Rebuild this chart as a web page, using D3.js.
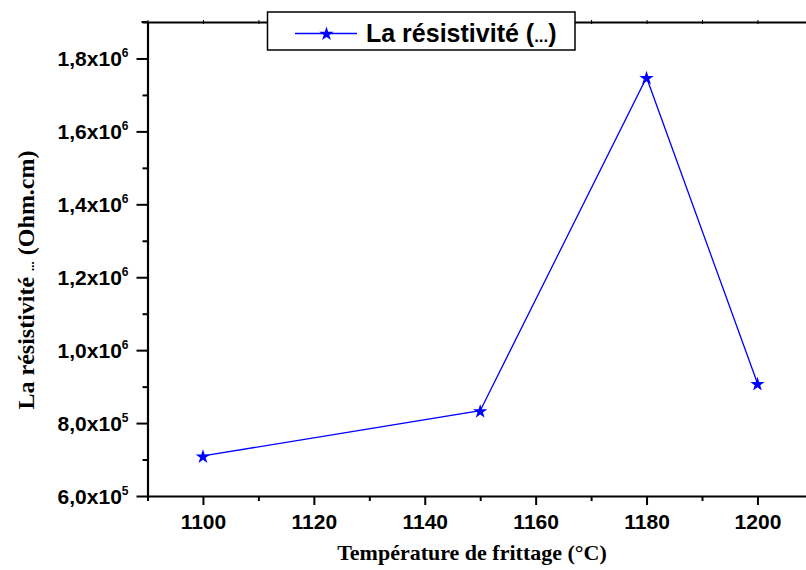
<!DOCTYPE html>
<html>
<head>
<meta charset="utf-8">
<script src="https://cdn.jsdelivr.net/npm/d3@7"></script>
<style>
  html, body { margin: 0; padding: 0; background: #fff; }
  svg { display: block; }
</style>
</head>
<body>
<svg id="chart" width="806" height="570"></svg>
<script>
// ---- data ----
const temperatures = [1100, 1150, 1180, 1200];
const resistivity = [710000, 834000, 1748000, 909000];
const seriesName = "La résistivité ";
const xMajorTicks = [1100, 1120, 1140, 1160, 1180, 1200];
const xMinorTicks = [1090, 1110, 1130, 1150, 1170, 1190, 1210];
const yMajorTicks = [600000, 800000, 1000000, 1200000, 1400000, 1600000, 1800000];
const yMinorTicks = [700000, 900000, 1100000, 1300000, 1500000, 1700000, 1900000];
const xTitle = "Température de frittage (°C)";
const yTitleMain = "La résistivité ";
const yTitleUnit = " (Ohm.cm)";

// ---- layout ----
const svg = d3.select("#chart");
const plotLeft = 147.5, plotTop = 22, plotBottom = 496;
const x = d3.scaleLinear().domain([1090, 1210]).range([plotLeft, plotLeft + 120 * 5.545]);
const y = d3.scaleLinear().domain([600000, 1900000]).range([plotBottom, plotTop]);
const blue = "#0000ff";

// top axis (frame line with tiny ticks)
const topAxis = svg.append("g").attr("transform", `translate(0,${plotTop})`)
  .call(d3.axisBottom(x).tickValues(xMajorTicks.concat(xMinorTicks)).tickSize(3).tickSizeOuter(0).tickFormat(""));
topAxis.select(".domain").attr("stroke", "#000").attr("stroke-width", 2);
topAxis.selectAll(".tick line").attr("stroke", "#000").attr("stroke-width", 1).attr("y1", -2).attr("y2", 2);
svg.append("line").attr("x1", plotLeft - 6).attr("x2", plotLeft).attr("y1", plotTop).attr("y2", plotTop)
  .attr("stroke", "#000").attr("stroke-width", 2);

// bottom axis
const xAxisG = svg.append("g").attr("transform", `translate(0,${plotBottom})`)
  .call(d3.axisBottom(x).tickValues(xMajorTicks).tickSize(9).tickSizeOuter(0).tickPadding(6).tickFormat(d3.format("d")));
xAxisG.select(".domain").attr("stroke", "#000").attr("stroke-width", 2.2);
xAxisG.selectAll(".tick line").attr("stroke", "#000").attr("stroke-width", 2);
xAxisG.selectAll(".tick text")
  .attr("fill", "#000")
  .attr("font-family", "'Liberation Sans', Arial, sans-serif")
  .attr("font-weight", "bold").attr("font-size", 21).attr("dy", null).attr("y", 33);
const xMinorG = svg.append("g").attr("transform", `translate(0,${plotBottom})`)
  .call(d3.axisBottom(x).tickValues(xMinorTicks).tickSize(5).tickSizeOuter(0).tickFormat(""));
xMinorG.select(".domain").remove();
xMinorG.selectAll(".tick line").attr("stroke", "#000").attr("stroke-width", 2);

// left axis
const yAxisG = svg.append("g").attr("transform", `translate(${plotLeft},0)`)
  .call(d3.axisLeft(y).tickValues(yMajorTicks).tickSize(11).tickSizeOuter(0).tickFormat(""));
yAxisG.select(".domain").attr("stroke", "#000").attr("stroke-width", 2.2);
yAxisG.selectAll(".tick line").attr("stroke", "#000").attr("stroke-width", 2);
yAxisG.selectAll(".tick").each(function(d) {
  const e = Math.floor(Math.log10(d) + 1e-9);
  const m = (d / Math.pow(10, e)).toFixed(1).replace(".", ",");
  const t = d3.select(this).append("text")
    .attr("x", -19).attr("y", 7.5)
    .attr("text-anchor", "end").attr("fill", "#000")
    .attr("font-family", "'Liberation Sans', Arial, sans-serif")
    .attr("font-weight", "bold").attr("font-size", 21);
  t.append("tspan").text(m + "x10");
  t.append("tspan").attr("font-size", 12).attr("dy", -9).text(e);
});
const yMinorG = svg.append("g").attr("transform", `translate(${plotLeft},0)`)
  .call(d3.axisLeft(y).tickValues(yMinorTicks).tickSize(5).tickSizeOuter(0).tickFormat(""));
yMinorG.select(".domain").remove();
yMinorG.selectAll(".tick line").attr("stroke", "#000").attr("stroke-width", 2);

// data line + stars
const line = d3.line().x((d, i) => x(temperatures[i])).y(d => y(d));
svg.append("path").datum(resistivity).attr("d", line)
  .attr("fill", "none").attr("stroke", blue).attr("stroke-width", 1.3);
const star = d3.symbol().type(d3.symbolStar).size(64);
svg.selectAll(".pt").data(resistivity).enter().append("path")
  .attr("class", "pt").attr("d", star)
  .attr("transform", (d, i) => `translate(${x(temperatures[i])},${y(d) + 1})`)
  .attr("fill", blue);

// legend
const lg = svg.append("g");
lg.append("rect").attr("x", 267.5).attr("y", 12).attr("width", 307.5).attr("height", 38)
  .attr("fill", "#fff").attr("stroke", "#000").attr("stroke-width", 1.5);
lg.append("line").attr("x1", 295).attr("x2", 357).attr("y1", 33.5).attr("y2", 33.5)
  .attr("stroke", blue).attr("stroke-width", 1.3);
lg.append("path").attr("d", star).attr("transform", "translate(326.5,34)").attr("fill", blue);
const lt = lg.append("text").attr("x", 366).attr("y", 41.5).attr("fill", "#000")
  .attr("font-family", "'Liberation Sans', Arial, sans-serif")
  .attr("font-weight", "bold").attr("font-size", 25);
lt.append("tspan").text(seriesName + "(");
lt.append("tspan").attr("font-size", 17).text("...");
lt.append("tspan").text(")");

// axis titles
svg.append("text").attr("x", 472).attr("y", 560).attr("text-anchor", "middle")
  .attr("fill", "#000").attr("font-family", "'Liberation Serif', 'Times New Roman', serif")
  .attr("font-weight", "bold").attr("font-size", 22).text(xTitle);
const yt = svg.append("text").attr("transform", "translate(34,280) rotate(-90)")
  .attr("text-anchor", "middle").attr("fill", "#000")
  .attr("font-family", "'Liberation Serif', 'Times New Roman', serif")
  .attr("font-weight", "bold").attr("font-size", 24);
yt.append("tspan").text(yTitleMain);
yt.append("tspan").attr("font-size", 13).text("...");
yt.append("tspan").text(yTitleUnit);
</script>
</body>
</html>
